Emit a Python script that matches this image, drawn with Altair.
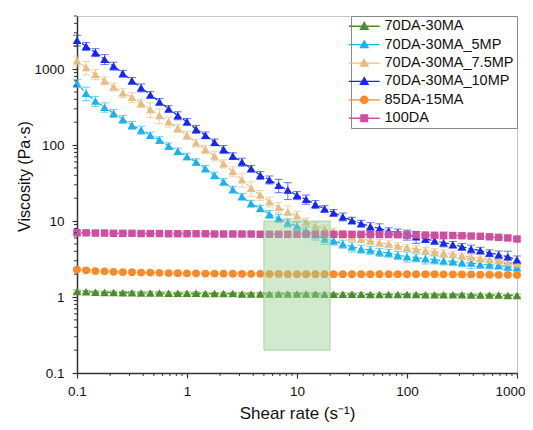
import math
import altair as alt
import pandas as pd

# ---------------- data ----------------
shear_rate = [0.1, 0.121, 0.147, 0.178, 0.215, 0.261, 0.316, 0.383, 0.464, 0.562, 0.681, 0.825,
              1.0, 1.21, 1.47, 1.78, 2.15, 2.61, 3.16, 3.83, 4.64, 5.62, 6.81, 8.25,
              10.0, 12.1, 14.7, 17.8, 21.5, 26.1, 31.6, 38.3, 46.4, 56.2, 68.1, 82.5,
              100.0, 121, 147, 178, 215, 261, 316, 383, 464, 562, 681, 825, 1000]

series_names = ["70DA-30MA", "70DA-30MA_5MP", "70DA-30MA_7.5MP", "70DA-30MA_10MP", "85DA-15MA", "100DA"]

visc_70DA_30MA = [1.18, 1.17, 1.16, 1.15, 1.15, 1.14, 1.14, 1.13, 1.13, 1.13, 1.12, 1.12, 1.12,
                  1.12, 1.11, 1.11, 1.11, 1.11, 1.10, 1.10, 1.10, 1.10, 1.10, 1.10, 1.10,
                  1.10, 1.10, 1.09, 1.09, 1.09, 1.09, 1.09, 1.08, 1.08, 1.08, 1.08, 1.08,
                  1.08, 1.07, 1.07, 1.07, 1.07, 1.07, 1.06, 1.06, 1.06, 1.06, 1.05, 1.05]
visc_5MP = [650, 480, 380, 315, 262, 219, 183, 158, 135, 117, 97, 83, 71,
            60, 49, 40, 33, 26, 21, 17, 14.7, 12.3, 10.9, 9.5, 8.6,
            7.4, 6.6, 5.8, 5.5, 5.0, 4.6, 4.3, 4.15, 3.9, 3.8, 3.55, 3.4,
            3.3, 3.2, 3.1, 3.0, 2.95, 2.85, 2.8, 2.7, 2.65, 2.6, 2.5, 2.45]
visc_7_5MP = [1290, 1050, 855, 705, 585, 490, 425, 355, 295, 245, 203, 166, 135,
              107, 88, 72, 57, 45, 35, 27, 22, 18, 15.2, 13.2, 11.7,
              9.8, 8.7, 7.9, 7.3, 6.7, 6.2, 5.8, 5.5, 5.2, 5.0, 4.7, 4.5,
              4.3, 4.1, 3.95, 3.8, 3.65, 3.5, 3.35, 3.2, 3.1, 3.0, 2.85, 2.75]
visc_10MP = [2400, 2000, 1660, 1350, 1100, 875, 705, 570, 460, 372, 300, 245, 203,
             162, 135, 109, 88, 72, 60, 49, 40, 35, 29.5, 25.6, 21.8,
             19.3, 16.6, 14.5, 12.9, 11.4, 10.2, 9.3, 8.5, 8.0, 7.4, 7.0, 6.6,
             6.2, 5.8, 5.5, 5.2, 4.9, 4.6, 4.3, 4.1, 3.8, 3.6, 3.4, 3.1]
visc_85DA_15MA = [2.30, 2.25, 2.20, 2.18, 2.15, 2.13, 2.12, 2.10, 2.10, 2.08, 2.07, 2.06, 2.05,
                  2.05, 2.04, 2.04, 2.03, 2.03, 2.02, 2.02, 2.02, 2.01, 2.01, 2.00, 2.00,
                  2.00, 2.00, 2.00, 2.00, 2.00, 2.00, 2.00, 2.00, 2.00, 2.00, 2.00, 2.00,
                  2.00, 2.00, 2.00, 1.99, 1.99, 1.98, 1.98, 1.97, 1.97, 1.96, 1.96, 1.95]
visc_100DA = [7.0, 7.0, 6.95, 6.95, 6.9, 6.9, 6.9, 6.85, 6.85, 6.85, 6.8, 6.8, 6.8,
              6.8, 6.8, 6.75, 6.75, 6.75, 6.75, 6.75, 6.7, 6.7, 6.7, 6.7, 6.7,
              6.7, 6.7, 6.7, 6.7, 6.7, 6.7, 6.7, 6.65, 6.65, 6.65, 6.6, 6.6,
              6.6, 6.55, 6.5, 6.5, 6.45, 6.4, 6.35, 6.3, 6.2, 6.1, 6.0, 5.8]

# relative error (fraction of the value)
err_70DA_30MA = [0.05, 0.04, 0.04, 0.04, 0.04, 0.04, 0.04, 0.04, 0.04, 0.04, 0.04, 0.04, 0.04,
                 0.04, 0.04, 0.04, 0.04, 0.04, 0.04, 0.04, 0.04, 0.04, 0.04, 0.04, 0.04,
                 0.04, 0.04, 0.04, 0.04, 0.04, 0.04, 0.04, 0.04, 0.04, 0.04, 0.04, 0.04,
                 0.04, 0.04, 0.04, 0.04, 0.04, 0.04, 0.04, 0.04, 0.04, 0.04, 0.04, 0.04]
err_5MP = [0.12, 0.2, 0.15, 0.14, 0.12, 0.12, 0.12, 0.12, 0.1, 0.1, 0.1, 0.1, 0.1,
           0.1, 0.1, 0.1, 0.1, 0.1, 0.1, 0.1, 0.1, 0.12, 0.12, 0.12, 0.12,
           0.12, 0.15, 0.15, 0.12, 0.12, 0.15, 0.12, 0.12, 0.12, 0.12, 0.12, 0.15,
           0.12, 0.15, 0.12, 0.12, 0.12, 0.12, 0.15, 0.12, 0.12, 0.1, 0.1, 0.1]
err_7_5MP = [0.15, 0.2, 0.15, 0.12, 0.12, 0.14, 0.15, 0.12, 0.22, 0.22, 0.15, 0.12, 0.12,
             0.12, 0.12, 0.14, 0.12, 0.15, 0.2, 0.22, 0.15, 0.15, 0.15, 0.2, 0.15,
             0.12, 0.12, 0.12, 0.1, 0.12, 0.1, 0.1, 0.1, 0.1, 0.1, 0.1, 0.1,
             0.1, 0.1, 0.1, 0.1, 0.1, 0.08, 0.08, 0.08, 0.08, 0.08, 0.08, 0.08]
err_10MP = [0.16, 0.12, 0.12, 0.15, 0.12, 0.1, 0.1, 0.12, 0.1, 0.1, 0.1, 0.12, 0.1,
            0.12, 0.1, 0.1, 0.12, 0.1, 0.12, 0.1, 0.12, 0.12, 0.2, 0.25, 0.12,
            0.14, 0.12, 0.1, 0.1, 0.12, 0.1, 0.1, 0.12, 0.15, 0.1, 0.12, 0.15,
            0.18, 0.1, 0.1, 0.12, 0.1, 0.1, 0.12, 0.1, 0.1, 0.12, 0.18, 0.12]
err_85DA_15MA = [0.04, 0.04, 0.04, 0.04, 0.04, 0.04, 0.04, 0.04, 0.04, 0.04, 0.04, 0.04, 0.04,
                 0.04, 0.04, 0.04, 0.04, 0.04, 0.04, 0.04, 0.04, 0.04, 0.04, 0.04, 0.04,
                 0.04, 0.04, 0.04, 0.04, 0.04, 0.04, 0.04, 0.04, 0.04, 0.04, 0.04, 0.04,
                 0.04, 0.04, 0.04, 0.04, 0.04, 0.04, 0.04, 0.04, 0.04, 0.04, 0.04, 0.04]
err_100DA = [0.05, 0.04, 0.04, 0.04, 0.04, 0.04, 0.04, 0.04, 0.04, 0.04, 0.04, 0.04, 0.04,
             0.04, 0.04, 0.04, 0.04, 0.04, 0.04, 0.04, 0.04, 0.04, 0.04, 0.04, 0.04,
             0.04, 0.04, 0.04, 0.04, 0.04, 0.04, 0.04, 0.04, 0.04, 0.04, 0.04, 0.04,
             0.04, 0.04, 0.04, 0.04, 0.04, 0.04, 0.04, 0.04, 0.04, 0.04, 0.04, 0.05]

shade_x = [5, 20]
shade_y = [0.2, 10]

x_major = [0.1, 1, 10, 100, 1000]
y_major = [0.1, 1, 10, 100, 1000]

# ---------------- styling ----------------
colors = ["#4a8d2a", "#1ab3ef", "#e8bd80", "#1428f2", "#fa8a28", "#cd4f9d"]
markers = ["triangle-up", "triangle-up", "triangle-up", "triangle-up", "circle", "square"]
dash_keys = ["long", "long", "long", "long", "short", "short"]

# legend glyphs: a horizontal line with the marker on it (unit = sqrt(symbolSize)/2 px)
tri = "M-1.1,0.85L1.1,0.85L0,-1.1Z"
circ = "M" + "L".join(f"{1.05 * math.cos(k * math.pi / 8):.3f},{1.05 * math.sin(k * math.pi / 8):.3f}"
                      for k in range(16)) + "Z"
sq = "M-0.95,-0.95L0.95,-0.95L0.95,0.95L-0.95,0.95Z"
line_seg = "M-4.4,0L4.4,0"
legend_paths = [line_seg + tri, line_seg + tri, line_seg + tri, line_seg + tri,
                line_seg + circ, line_seg + sq]
FONT = "Liberation Sans"

values = [visc_70DA_30MA, visc_5MP, visc_7_5MP, visc_10MP, visc_85DA_15MA, visc_100DA]
errors = [err_70DA_30MA, err_5MP, err_7_5MP, err_10MP, err_85DA_15MA, err_100DA]

rows = []
for s, vals, errs, mk, dk in zip(series_names, values, errors, markers, dash_keys):
    for xv, yv, ev in zip(shear_rate, vals, errs):
        rows.append({"x": xv, "y": yv, "lo": yv * (1 - ev), "hi": yv * (1 + ev),
                     "series": s, "marker": mk, "dash": dk})
df = pd.DataFrame(rows)

xs = alt.Scale(type="log", domain=[0.1, 1000], nice=False)
ys = alt.Scale(type="log", domain=[0.1, 5000], nice=False)
# colour scale for the data layers (listed in reverse so it stays apart from the legend scales)
cs = alt.Scale(domain=series_names[::-1], range=colors[::-1])

x_axis = alt.Axis(values=x_major, format="~g", title="Shear rate (s⁻¹)",
                  titleX=220, titleY=40, titleAlign="center", titleBaseline="middle",
                  titleFont=FONT, titleFontSize=17, titleFontWeight="normal", titleColor="#111",
                  labelFont=FONT, labelFontSize=13.5, labelColor="#111", labelPadding=6,
                  labelFlush=False, labelOverlap=False,
                  labelAlign={"expr": "datum.value >= 1000 ? 'right' : 'center'"},
                  labelOffset={"expr": "datum.value >= 1000 ? 8 : 0"},
                  tickSize=5, tickColor="#333", tickWidth=1.2,
                  domainColor="#333", domainWidth=1.5, grid=False)
y_axis = alt.Axis(values=y_major, format="~g", title="Viscosity (Pa·s)",
                  titleX=-53, titleY=160, titleAngle=-90, titleAlign="center",
                  titleBaseline="middle",
                  titleFont=FONT, titleFontSize=16, titleFontWeight="normal", titleColor="#111",
                  labelFont=FONT, labelFontSize=13.5, labelColor="#111", labelPadding=8,
                  labelFlush=False, labelOverlap=False,
                  tickSize=5, tickColor="#333", tickWidth=1.2,
                  domainColor="#333", domainWidth=1.5, grid=False)


def X(field="x"):
    return alt.X(f"{field}:Q", scale=xs, axis=x_axis)


def Y(field="y"):
    return alt.Y(f"{field}:Q", scale=ys, axis=y_axis)


base = alt.Chart(df)

errbars = base.mark_errorbar(ticks={"size": 8}, thickness=1.1, opacity=0.6).encode(
    x=X(), y=Y("lo"), y2="hi:Q",
    color=alt.Color("series:N", scale=cs, legend=None),
)

lines = base.mark_line(strokeWidth=1.2).encode(
    x=X(), y=Y(),
    color=alt.Color("series:N", scale=cs, legend=None),
    strokeDash=alt.StrokeDash("dash:N", scale=alt.Scale(domain=["long", "short"],
                                                        range=[[4, 2], [2, 2]]),
                              legend=None),
    detail="series:N",
)

point_layers = []
for shp, sz in [("triangle-up", 75), ("circle", 60), ("square", 55)]:
    point_layers.append(
        base.transform_filter(alt.datum.marker == shp)
        .mark_point(filled=True, opacity=1, size=sz, shape=shp)
        .encode(x=X(), y=Y(), color=alt.Color("series:N", scale=cs, legend=None))
    )

shade_df = pd.DataFrame({"x": [shade_x[0]], "x2": [shade_x[1]],
                         "y": [shade_y[0]], "y2": [shade_y[1]]})
shade = alt.Chart(shade_df).mark_rect(fill="#98d194", fillOpacity=0.45,
                                      stroke="#8cc98a", strokeWidth=1, strokeOpacity=0.7).encode(
    x=X(), x2="x2:Q", y=Y(), y2="y2:Q",
)

# minor ticks
y_minor = [m * d for d in [0.1, 1, 10, 100, 1000] for m in range(2, 10) if m * d <= 5000]
x_minor = [m * d for d in [0.1, 1, 10, 100] for m in range(2, 10)]
ymin = alt.Chart(pd.DataFrame({"y": y_minor})).mark_rule(color="#333", strokeWidth=1).encode(
    y=Y(), x=alt.value(0), x2=alt.value(-3))
xmin = alt.Chart(pd.DataFrame({"x": x_minor})).mark_rule(color="#333", strokeWidth=1).encode(
    x=X(), y=alt.value(357), y2=alt.value(360))

leg = alt.Legend(title=None, orient="top-right", offset=0,
                 labelFont=FONT, labelFontSize=14.5, labelColor="#111", labelLimit=300,
                 symbolSize=49, symbolStrokeWidth=1.3, symbolOffset=3, labelOffset=13,
                 rowPadding=3.4, padding=3, strokeColor="#8a8a8a", fillColor="white",
                 symbolOpacity=1)
legend_layer = base.mark_point(opacity=0, filled=True).encode(
    x=X(), y=Y(),
    fill=alt.Fill("series:N", scale=alt.Scale(domain=series_names, range=colors), legend=leg),
    stroke=alt.Stroke("series:N", scale=alt.Scale(domain=series_names, range=colors), legend=leg),
    shape=alt.Shape("series:N", scale=alt.Scale(domain=series_names, range=legend_paths),
                    legend=leg),
)

chart = alt.layer(lines, errbars, *point_layers, shade, ymin, xmin, legend_layer).properties(
    width=440, height=357,
    autosize=alt.AutoSizeParams(type="none"),
    padding={"left": 69, "top": 8, "right": 8, "bottom": 49},
).configure_view(stroke="#c4c4c4", strokeWidth=1)

chart.save("out.html", embed_options={"renderer": "svg", "actions": False})
